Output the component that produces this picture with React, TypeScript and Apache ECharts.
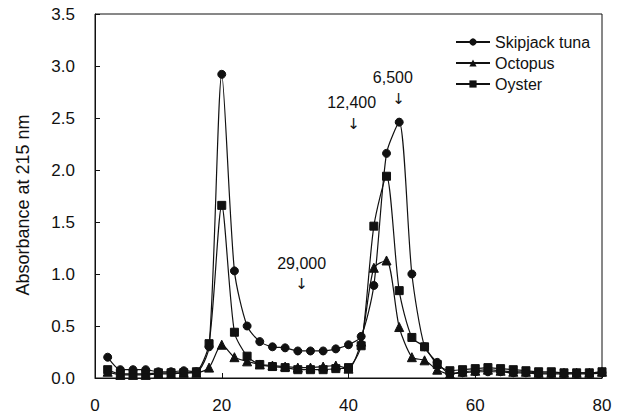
import React, { useEffect, useRef } from "react";
import * as echarts from "echarts";

const fractions = [2, 4, 6, 8, 10, 12, 14, 16, 18, 20, 22, 24, 26, 28, 30, 32, 34, 36, 38, 40, 42, 44, 46, 48, 50, 52, 54, 56, 58, 60, 62, 64, 66, 68, 70, 72, 74, 76, 78, 80];
const skipjack = [0.20, 0.08, 0.08, 0.08, 0.06, 0.06, 0.07, 0.06, 0.30, 2.92, 1.03, 0.50, 0.35, 0.30, 0.29, 0.26, 0.26, 0.26, 0.28, 0.32, 0.40, 0.89, 2.16, 2.46, 1.00, 0.30, 0.15, 0.04, 0.05, 0.06, 0.06, 0.06, 0.05, 0.05, 0.04, 0.04, 0.04, 0.04, 0.04, 0.05];
const octopus = [0.06, 0.03, 0.03, 0.03, 0.04, 0.04, 0.05, 0.05, 0.10, 0.32, 0.20, 0.16, 0.13, 0.12, 0.11, 0.10, 0.10, 0.11, 0.12, 0.09, 0.35, 1.06, 1.13, 0.49, 0.20, 0.17, 0.08, 0.04, 0.06, 0.07, 0.08, 0.07, 0.06, 0.06, 0.05, 0.05, 0.05, 0.05, 0.05, 0.06];
const oyster = [0.08, 0.04, 0.04, 0.04, 0.05, 0.05, 0.05, 0.06, 0.33, 1.66, 0.44, 0.21, 0.13, 0.11, 0.10, 0.08, 0.08, 0.08, 0.09, 0.10, 0.31, 1.46, 1.94, 0.84, 0.39, 0.30, 0.13, 0.07, 0.08, 0.09, 0.10, 0.09, 0.08, 0.07, 0.06, 0.06, 0.05, 0.05, 0.05, 0.06];

const seriesNames = ["Skipjack tuna", "Octopus", "Oyster"];
const seriesSymbols = ["circle", "triangle", "rect"];
const markerLabels = ["29,000", "12,400", "6,500"];
const markerTextFractions = [32.6, 40.5, 47.0];
const markerTextHeights = [1.10, 2.65, 2.89];
const markerArrowFractions = [32.6, 40.8, 47.9];
const markerArrowHeights = [0.90, 2.44, 2.68];
const yTitle = "Absorbance at 215 nm";

const FONT = "Liberation Sans, Arial, sans-serif";
const INK = "#111";

export default function App() {
  const ref = useRef<HTMLDivElement>(null);
  useEffect(() => {
    if (!ref.current) return;
    const chart = echarts.init(ref.current, undefined, { renderer: "svg" });
    const values = [skipjack, octopus, oyster];
    const series: any[] = values.map((vals, i) => ({
      name: seriesNames[i],
      type: "line",
      smooth: 0.25,
      symbol: seriesSymbols[i],
      symbolSize: i === 1 ? 9 : 8,
      showAllSymbol: true,
      data: fractions.map((x, j) => [x, vals[j]]),
      lineStyle: { color: INK, width: 1.2 },
      itemStyle: { color: INK, borderColor: INK },
      z: 3 - i,
    }));
    chart.setOption({
      animation: false,
      backgroundColor: "#fff",
      textStyle: { fontFamily: FONT, color: INK },
      grid: {
        left: 95,
        right: 17,
        top: 14,
        bottom: 41,
        show: true,
        borderColor: INK,
        borderWidth: 1,
      },
      legend: {
        data: seriesNames,
        orient: "vertical",
        left: 450,
        top: 29,
        itemWidth: 34,
        itemHeight: 9,
        itemGap: 5,
        textStyle: { fontFamily: FONT, fontSize: 16, color: INK },
      },
      xAxis: {
        type: "value",
        min: 0,
        max: 80,
        interval: 20,
        axisLine: { lineStyle: { color: INK } },
        axisTick: { inside: true, length: 5, lineStyle: { color: INK } },
        axisLabel: { fontFamily: FONT, fontSize: 17, color: INK, margin: 19 },
        splitLine: { show: false },
      },
      yAxis: {
        type: "value",
        min: 0,
        max: 3.5,
        interval: 0.5,
        axisLine: { show: true, lineStyle: { color: INK } },
        axisTick: { show: true, inside: true, length: 5, lineStyle: { color: INK } },
        axisLabel: {
          fontFamily: FONT,
          fontSize: 17,
          color: INK,
          margin: 20,
          formatter: (v: number) => v.toFixed(1),
        },
        splitLine: { show: false },
      },
      series,
    });
    const graphics: any[] = [
      {
        type: "text",
        x: 23,
        y: 205,
        rotation: Math.PI / 2,
        style: {
          text: yTitle,
          fontFamily: FONT,
          fontSize: 18,
          fill: INK,
          align: "center",
          verticalAlign: "middle",
        },
      },
    ];
    markerLabels.forEach((lab, i) => {
      const [tx, ty] = chart.convertToPixel({ gridIndex: 0 }, [markerTextFractions[i], markerTextHeights[i]]);
      const [ax, ay] = chart.convertToPixel({ gridIndex: 0 }, [markerArrowFractions[i], markerArrowHeights[i]]);
      graphics.push({
        type: "text",
        x: tx,
        y: ty,
        style: { text: lab, fontFamily: FONT, fontSize: 16, fill: INK, align: "center", verticalAlign: "middle" },
      });
      graphics.push({
        type: "text",
        x: ax,
        y: ay,
        style: { text: "↓", fontFamily: "DejaVu Sans", fontSize: 15, fill: INK, align: "center", verticalAlign: "middle" },
      });
    });
    chart.setOption({ graphic: graphics });
    return () => chart.dispose();
  }, []);
  return <div ref={ref} style={{ width: 619, height: 419, position: "absolute", left: 0, top: 0 }} />;
}
